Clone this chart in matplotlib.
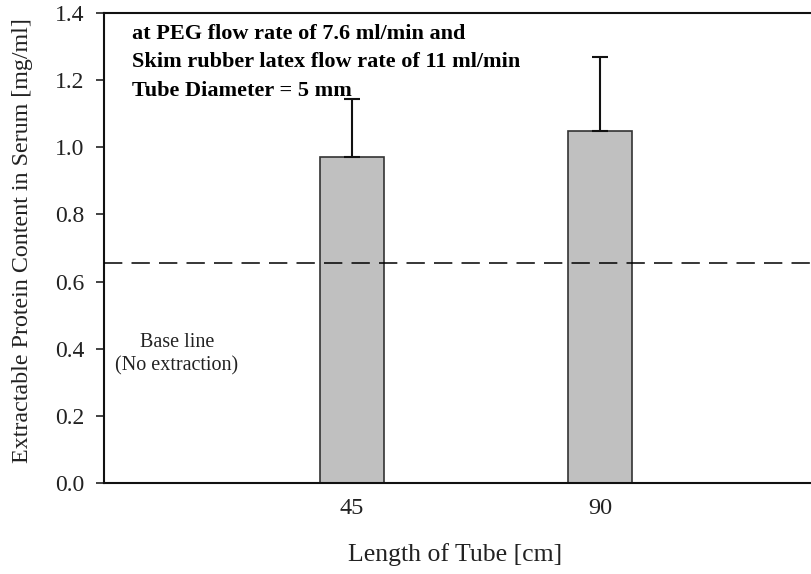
import matplotlib
matplotlib.use('Agg')
import matplotlib.pyplot as plt

# data
lengths = ['45', '90']
protein = [0.97, 1.05]
err_up = [0.175, 0.22]
baseline = 0.655

plt.rcParams['font.family'] = 'serif'
plt.rcParams['font.serif'] = ['Liberation Serif', 'DejaVu Serif']

fig = plt.figure(figsize=(8.11, 5.74), dpi=100)
# axes extends past the right edge (the original was cropped)
ax = fig.add_axes([104/811, 1 - 483/574, 744/811, 470/574])

x = [1, 2]
ax.bar(x, protein, width=0.255, color='#c0c0c0', edgecolor='#333333', linewidth=1.2,
       yerr=[[0, 0], err_up], capsize=6,
       error_kw=dict(ecolor='#111111', elinewidth=1.5, capthick=1.5), zorder=2)
ax.axhline(baseline, color='black', linestyle=(0, (12, 6)), linewidth=1.1, zorder=3)

ax.set_xlim(0, 3)
ax.set_ylim(0, 1.4)
ax.set_yticks([0, 0.2, 0.4, 0.6, 0.8, 1.0, 1.2, 1.4])
ax.set_yticklabels(['%.1f' % v for v in ax.get_yticks()])
ax.set_xticks(x)
ax.set_xticklabels(lengths)
ax.tick_params(axis='y', direction='out', length=6, width=1.2, labelsize=17, pad=8, colors='#222222')
ax.tick_params(axis='x', length=0, labelsize=17.5, pad=11, colors='#222222')
for s in ax.spines.values():
    s.set_linewidth(1.5)
    s.set_color('#111111')

ax.set_xlabel('Length of Tube [cm]', fontsize=18.5, color='#222222')
ax.xaxis.set_label_coords(0.472, -0.128)
ax.set_ylabel('Extractable Protein Content in Serum [mg/ml]', fontsize=17.3, color='#222222')
ax.yaxis.set_label_coords(-0.095, 0.515)

ax.text(28/744, 1 - 11/470, 'at PEG flow rate of 7.6 ml/min and\n'
        'Skim rubber latex flow rate of 11 ml/min\n'
        'Tube Diameter = 5 mm', transform=ax.transAxes, fontsize=16,
        fontweight='bold', va='top', ha='left', linespacing=1.56)
ax.text(73/744, (483 - 354)/470, 'Base line\n(No extraction)', transform=ax.transAxes,
        fontsize=14.5, ha='center', va='center', linespacing=1.27, color='#222222')

fig.savefig('out.png', dpi=100)
